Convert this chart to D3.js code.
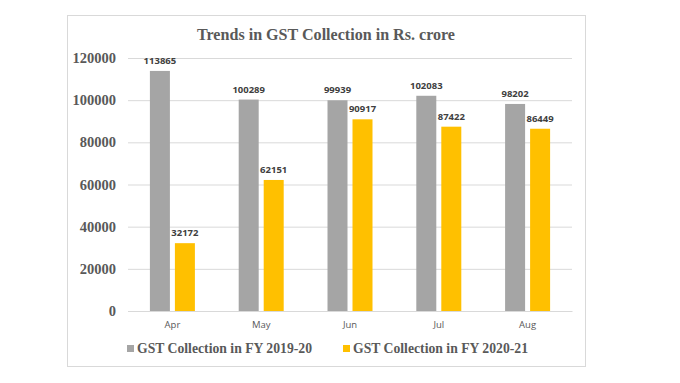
<!DOCTYPE html>
<html><head><meta charset="utf-8">
<script src="https://cdn.jsdelivr.net/npm/d3@7/dist/d3.min.js"></script>
<style>body{margin:0;background:#fff}svg{display:block}</style>
</head><body>
<script>
const months = ["Apr","May","Jun","Jul","Aug"];
const fy1920 = [113865,100289,99939,102083,98202];
const fy2021 = [32172,62151,90917,87422,86449];
const seriesNames = ["GST Collection in FY 2019-20","GST Collection in FY 2020-21"];
const yTicks = [0,20000,40000,60000,80000,100000,120000];
const colors = ["#A5A5A5","#FFC000"];

const W=680,H=383;
const svg=d3.select("body").append("svg").attr("width",W).attr("height",H);
svg.append("rect").attr("x",67.5).attr("y",15.5).attr("width",518).attr("height",351)
  .attr("fill","#fff").attr("stroke","#d9d9d9");

const x=d3.scaleBand().domain(months).range([128,572]);
const y=d3.scaleLinear().domain([0,120000]).range([311,58]);

svg.append("text").attr("x",326).attr("y",40).attr("text-anchor","middle")
  .attr("font-family","Liberation Serif, Times New Roman, serif").attr("font-weight","bold")
  .attr("font-size",16.5).attr("fill","#595959")
  .attr("textLength",258).attr("lengthAdjust","spacingAndGlyphs")
  .text("Trends in GST Collection in Rs. crore");

const yAxis=svg.append("g").attr("transform","translate(128,0)")
  .call(d3.axisLeft(y).tickValues(yTicks).tickSize(-444).tickFormat(d3.format("d")));
yAxis.select(".domain").remove();
yAxis.selectAll(".tick line").attr("stroke","#d9d9d9");
yAxis.selectAll(".tick text").attr("x",-12).attr("font-family","Liberation Serif, Times New Roman, serif")
  .attr("font-weight","bold").attr("font-size",14.5).attr("fill","#595959");

const xAxis=svg.append("g").attr("transform","translate(0,311)")
  .call(d3.axisBottom(x).tickSize(0));
xAxis.select(".domain").attr("stroke","#d9d9d9");
xAxis.selectAll(".tick text").attr("dy",14).attr("font-family","Open Sans, Liberation Sans, sans-serif")
  .attr("font-size",9.5).attr("fill","#595959");

const bw=20, gap=5;
const series=[fy1920,fy2021];
series.forEach((vals,si)=>{
  const off = si===0 ? -bw-gap/2 : gap/2;
  svg.append("g").selectAll("rect").data(vals).join("rect")
    .attr("x",(d,i)=>x(months[i])+x.bandwidth()/2+off)
    .attr("y",d=>y(d)).attr("width",bw).attr("height",d=>y(0)-y(d))
    .attr("fill",colors[si]);
  svg.append("g").selectAll("text").data(vals).join("text")
    .attr("x",(d,i)=>x(months[i])+x.bandwidth()/2+off+bw/2)
    .attr("y",d=>y(d)-7).attr("text-anchor","middle")
    .attr("font-family","Open Sans, Liberation Sans, sans-serif").attr("font-weight","bold")
    .attr("font-size",9.5).attr("fill","#404040").text(d=>d);
});

const legX=[127,343];
seriesNames.forEach((n,i)=>{
  svg.append("rect").attr("x",legX[i]).attr("y",345).attr("width",7).attr("height",7).attr("fill",colors[i]);
  svg.append("text").attr("x",legX[i]+10).attr("y",353)
    .attr("font-family","Liberation Serif, Times New Roman, serif").attr("font-weight","bold")
    .attr("font-size",15).attr("fill","#595959")
    .attr("textLength",175).attr("lengthAdjust","spacingAndGlyphs").text(n);
});
</script>
</body></html>
